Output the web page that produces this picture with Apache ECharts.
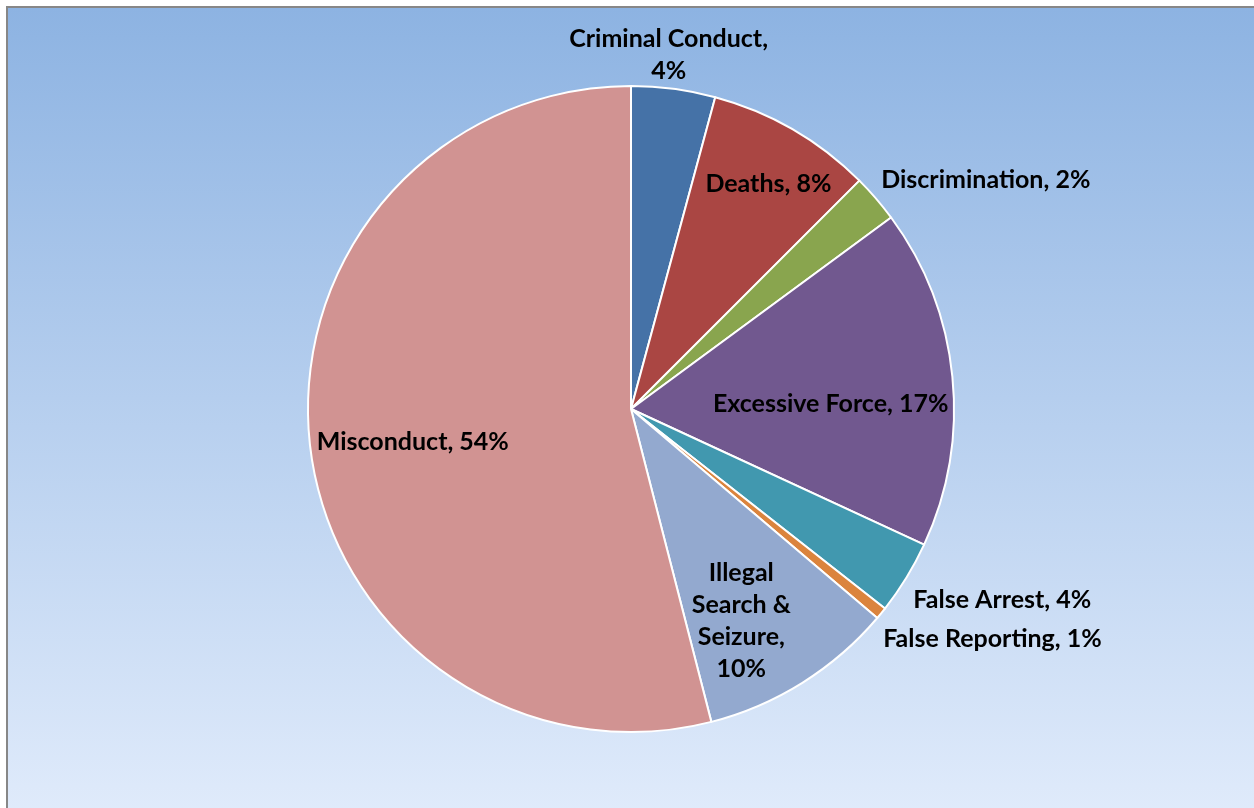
<!DOCTYPE html>
<html>
<head>
<meta charset="utf-8">
<script src="https://cdn.jsdelivr.net/npm/echarts@6/dist/echarts.min.js"></script>
<style>
html,body{margin:0;padding:0;background:#ffffff;overflow:hidden;}
#chart{position:absolute;left:6px;top:6px;width:1254px;height:808px;border-left:2px solid #878787;border-top:2px solid #878787;}
</style>
</head>
<body>
<div id="chart"></div>
<script>
// Data
var categories = ['Criminal Conduct', 'Deaths', 'Discrimination', 'Excessive Force', 'False Arrest', 'False Reporting', 'Illegal Search & Seizure', 'Misconduct'];
var values = [4.2, 8.3, 2.4, 17.0, 3.7, 0.6, 9.8, 54.0];
var colors = ['#4572A7', '#AA4643', '#89A54E', '#71588F', '#4198AF', '#DB843D', '#93A9CF', '#D19392'];
var labelNames = ['Criminal Conduct,\n', 'Deaths, ', 'Discrimination, ', 'Excessive Force, ', 'False Arrest, ', 'False Reporting, ', 'Illegal\nSearch &\nSeizure,\n', 'Misconduct, '];
// label nudges from the default inside position (px)
var labelOffsets = [[16, -191], [55, -83], [230, -122], [36, 11], [231, 105], [234, 126], [23, 72], [-55, 12]];

var chart = echarts.init(document.getElementById('chart'));
var data = categories.map(function (c, i) {
  return { name: c, value: values[i], itemStyle: { color: colors[i] } };
});
chart.setOption({
  backgroundColor: {
    type: 'linear', x: 0, y: 0, x2: 0, y2: 1,
    colorStops: [{ offset: 0, color: '#8DB3E2' }, { offset: 1, color: '#E0EBFB' }]
  },
  animation: false,
  series: [{
    type: 'pie',
    center: [623, 401],
    radius: 323,
    startAngle: 90,
    clockwise: true,
    avoidLabelOverlap: false,
    percentPrecision: 1,
    data: data,
    itemStyle: { borderColor: '#ffffff', borderWidth: 2 },
    label: {
      position: 'inside',
      fontFamily: 'Lato',
      fontWeight: 'bold',
      fontSize: 25,
      lineHeight: 32,
      color: '#000000',
      align: 'center',
      formatter: function (p) {
        return labelNames[p.dataIndex] + Math.round(p.percent) + '%';
      }
    },
    labelLine: { show: false },
    labelLayout: function (p) {
      var o = labelOffsets[p.dataIndex];
      return { dx: o[0], dy: o[1] };
    }
  }]
});
</script>
</body>
</html>
